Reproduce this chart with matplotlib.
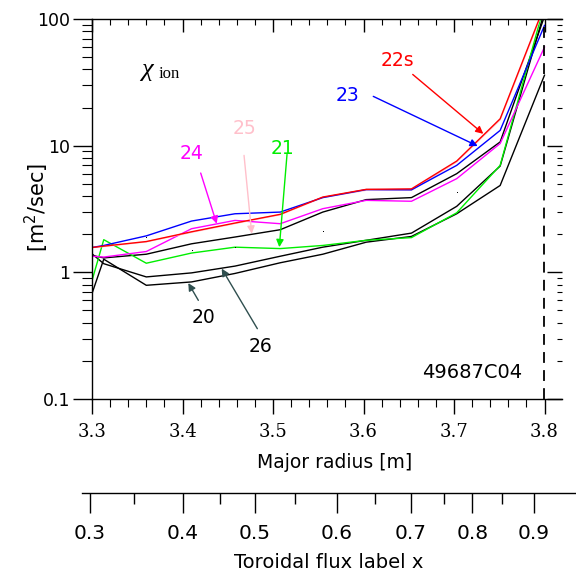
import matplotlib
matplotlib.use('Agg')
import matplotlib.pyplot as plt
import numpy as np
from matplotlib.ticker import MultipleLocator, LogLocator, NullFormatter, FuncFormatter

plt.rcParams['font.family'] = 'DejaVu Sans'

# major radius grid [m]
R = [3.300, 3.313, 3.360, 3.410, 3.458, 3.508, 3.555, 3.603, 3.653, 3.703, 3.751, 3.800]

# chi_ion [m^2/sec] per run
chi_20 = [0.68, 1.27, 0.79, 0.84, 0.98, 1.19, 1.39, 1.73, 1.92, 2.90, 4.85, 36]
chi_26 = [1.40, 1.17, 0.92, 0.99, 1.12, 1.34, 1.58, 1.79, 2.04, 3.32, 6.90, 115]
chi_bk = [1.36, 1.30, 1.39, 1.68, 1.90, 2.17, 2.99, 3.75, 3.89, 6.01, 10.7, 105]
chi_21 = [0.86, 1.81, 1.18, 1.42, 1.58, 1.54, 1.63, 1.79, 1.88, 2.95, 6.99, 130]
chi_24 = [1.34, 1.32, 1.46, 2.21, 2.57, 2.42, 3.18, 3.70, 3.64, 5.49, 10.4, 60]
chi_25 = [1.57, 1.60, 1.74, 2.07, 2.43, 2.85, 3.90, 4.45, 4.45, 7.45, 16.0, 125]
chi_23 = [1.57, 1.63, 1.94, 2.54, 2.90, 2.99, 3.89, 4.50, 4.48, 6.99, 13.2, 89]
chi_22s = [1.57, 1.61, 1.75, 2.09, 2.45, 2.87, 3.93, 4.52, 4.56, 7.56, 16.3, 128]

# stray dots
dot_R = [3.36, 3.41, 3.458, 3.555, 3.703]
dot_v = [1.89, 1.51, 1.58, 2.12, 4.30]

# toroidal flux label x  vs  major radius
flux_x = ['0.3', '0.4', '0.5', '0.6', '0.7', '0.8', '0.9']
flux_R = [3.2978, 3.4002, 3.4799, 3.5707, 3.6522, 3.7203, 3.7882]
flux_minor_R = [3.3459, 3.4413, 3.5245, 3.6127, 3.6887, 3.7528]

W, H = 576., 574.
fig = plt.figure(figsize=(W/100, H/100), dpi=100)
ax = fig.add_axes([92/W, 1-399/H, (562-92)/W, (399-19)/H])

ax.plot(R, chi_20, color='black', lw=1)
ax.plot(R, chi_26, color='black', lw=1)
ax.plot(R, chi_bk, color='black', lw=1)
ax.plot(R, chi_21, color='#00ee00', lw=1)
ax.plot(R, chi_24, color='magenta', lw=1)
ax.plot(R, chi_25, color='pink', lw=1)
ax.plot(R, chi_23, color='blue', lw=1)
ax.plot(R, chi_22s, color='red', lw=1)
ax.plot(dot_R, dot_v, ls='none', marker='s', ms=0.7, mew=0, color='black')

ax.axvline(3.8, color='black', lw=1.3, ls=(0, (6, 4)))

ax.set_yscale('log')
ax.set_ylim(0.1, 100)
ax.set_xlim(3.3, 3.3 + 470/905)
ax.yaxis.set_major_locator(LogLocator(base=10, numticks=10))
ax.yaxis.set_minor_locator(LogLocator(base=10, subs=np.arange(2, 10), numticks=10))
ax.yaxis.set_major_formatter(FuncFormatter(lambda v, _: f'{v:g}'))
ax.yaxis.set_minor_formatter(NullFormatter())
ax.xaxis.set_major_locator(MultipleLocator(0.1))
ax.xaxis.set_minor_locator(MultipleLocator(0.02))
ax.xaxis.set_major_formatter(FuncFormatter(lambda v, _: f'{v:.1f}'))

ax.tick_params(axis='y', which='major', direction='out', length=14, width=1,
               pad=1.5, labelsize=12.5)
ax.tick_params(axis='y', which='minor', direction='out', length=7, width=0.8)
ax.tick_params(axis='x', which='major', direction='out', length=11, width=1,
               pad=6, labelsize=13, labelfontfamily='DejaVu Serif')
ax.tick_params(axis='x', which='minor', direction='out', length=5.5, width=0.8)
ax.spines['right'].set_visible(False)
for s in ['left', 'bottom', 'top']:
    ax.spines[s].set_linewidth(1)

# top ticks pointing in
axt = ax.twiny()
axt.set_xlim(ax.get_xlim())
axt.xaxis.set_major_locator(MultipleLocator(0.1))
axt.xaxis.set_minor_locator(MultipleLocator(0.02))
axt.tick_params(axis='x', which='major', direction='in', length=9.4, width=1, labeltop=False)
axt.tick_params(axis='x', which='minor', direction='in', length=4.3, width=0.8)
for s in axt.spines.values():
    s.set_visible(False)

# right ticks pointing in
axr = ax.twinx()
axr.set_yscale('log')
axr.set_ylim(0.1, 100)
axr.yaxis.set_major_locator(LogLocator(base=10, numticks=10))
axr.yaxis.set_minor_locator(LogLocator(base=10, subs=np.arange(2, 10), numticks=10))
axr.yaxis.set_minor_formatter(NullFormatter())
axr.tick_params(axis='y', which='major', direction='in', length=11, width=1, labelright=False)
axr.tick_params(axis='y', which='minor', direction='in', length=3.6, width=0.8)
for s in axr.spines.values():
    s.set_visible(False)

# annotations
arr = dict(arrowstyle='-|>', lw=1, mutation_scale=11, shrinkA=0, shrinkB=0)
def label(txt, pos, tail, head, col, acol=None):
    ax.text(pos[0], pos[1], txt, color=col, fontsize=13.5, ha='center', va='center')
    ax.annotate('', xy=head, xytext=tail, arrowprops=dict(arr, color=acol or col))

label('22s', (3.638, 47.1), (3.6544, 36.5), (3.7324, 12.4), 'red')
label('23', (3.5818, 24.9), (3.6108, 24.5), (3.7262, 9.93), 'blue')
label('24', (3.4105, 8.70), (3.4201, 6.08), (3.4378, 2.42), 'magenta')
label('25', (3.468, 13.7), (3.468, 8.38), (3.4765, 2.02), 'pink')
label('21', (3.511, 9.52), (3.5155, 8.54), (3.507, 1.58), '#00ee00')
label('20', (3.4235, 0.44), (3.4175, 0.601), (3.4064, 0.823), 'black', '#2f4f4f')
label('26', (3.4862, 0.26), (3.4827, 0.359), (3.4433, 1.07), 'black', '#2f4f4f')

ax.text(3.7199, 0.1624, '49687C04', fontsize=14, ha='center', va='center')
ax.text(3.3608, 39.7, 'χ', fontsize=19, family='Liberation Serif', style='italic',
        ha='center', va='center')
ax.text(3.385, 36.7, 'ion', fontsize=12, family='Liberation Serif', ha='center', va='center')

# toroidal flux axis
axf = fig.add_axes([81.6/W, 1-492.7/H, (576-81.6)/W, 0.0001])
axf.set_xlim(3.3 - (92-81.6)/905, 3.3 + (576-92)/905)
axf.set_facecolor('none')
axf.set_yticks([])
axf.set_xticks(flux_R)
axf.set_xticklabels(flux_x)
axf.set_xticks(flux_minor_R, minor=True)
for s in ['top', 'left', 'right']:
    axf.spines[s].set_visible(False)
axf.spines['bottom'].set_linewidth(1)
axf.tick_params(axis='x', which='major', direction='out', length=14.4, width=1,
                pad=8, labelsize=14.5)
axf.tick_params(axis='x', which='minor', direction='out', length=8, width=1)

fig.text(335/W, 1-463/H, 'Major radius [m]', fontsize=13.5, ha='center', va='center')
fig.text(329/W, 1-563/H, 'Toroidal flux label x', fontsize=14, ha='center', va='center')
fig.text(37/W, 1-207.5/H, '[m$^2$/sec]', fontsize=15, rotation=90, ha='center', va='center')

fig.savefig('out.png', dpi=100)
